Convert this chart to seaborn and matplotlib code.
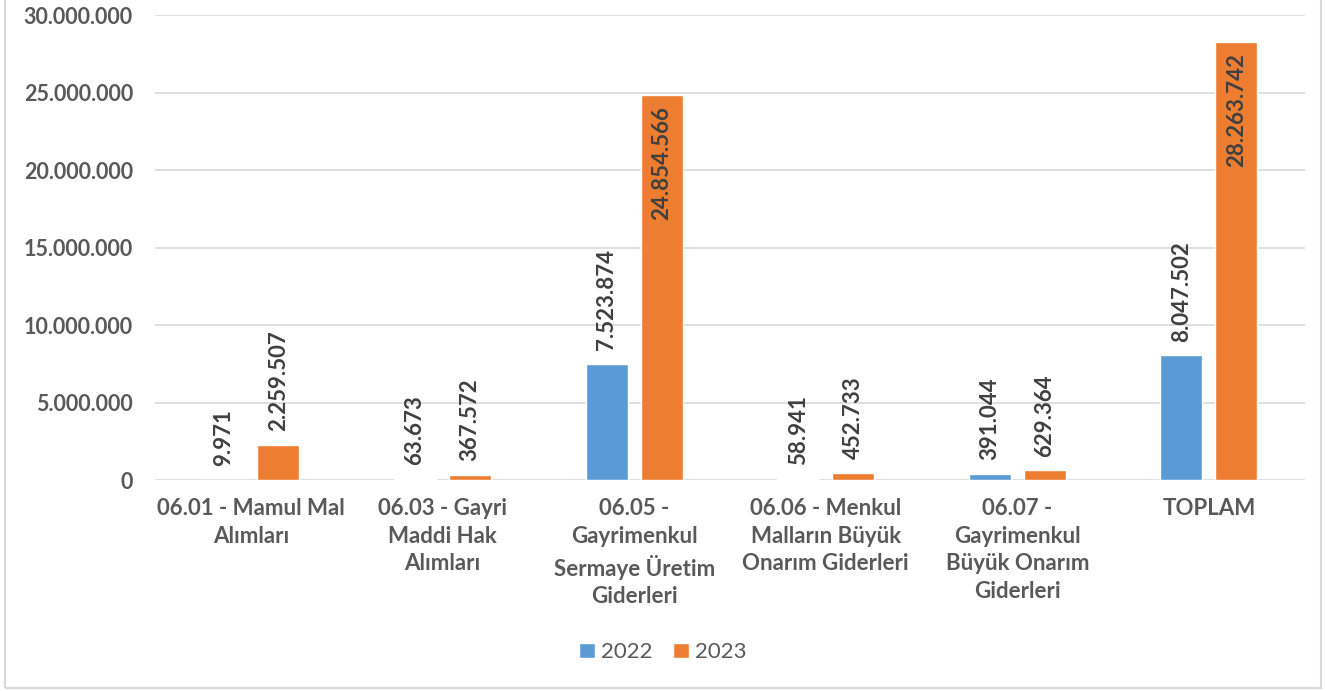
import matplotlib
matplotlib.use("Agg")
import matplotlib.pyplot as plt
import seaborn as sns
import pandas as pd
from matplotlib.ticker import FuncFormatter, MultipleLocator
from matplotlib.patches import Rectangle

categories = [
    "06.01 - Mamul Mal\nAlımları",
    "06.03 - Gayri\nMaddi Hak\nAlımları",
    "06.05 -\nGayrimenkul\nSermaye Üretim\nGiderleri",
    "06.06 - Menkul\nMalların Büyük\nOnarım Giderleri",
    "06.07 -\nGayrimenkul\nBüyük Onarım\nGiderleri",
    "TOPLAM",
]
years = ["2022", "2023"]
values_2022 = [9971, 63673, 7523874, 58941, 391044, 8047502]
values_2023 = [2259507, 367572, 24854566, 452733, 629364, 28263742]
colors = ["#5B9BD5", "#ED7D31"]

df = pd.DataFrame({
    "cat": categories * 2,
    "year": [years[0]] * len(categories) + [years[1]] * len(categories),
    "val": values_2022 + values_2023,
})

sns.set_theme(style="white")
plt.rcParams["font.family"] = ["Lato", "DejaVu Sans"]

def fmt(v):
    return f"{int(round(v)):,}".replace(",", ".")

fig = plt.figure(figsize=(13.26, 6.91), dpi=100)
ax = fig.add_axes([0.117, 0.305, 0.867, 0.673])

sns.barplot(data=df, x="cat", y="val", hue="year", palette=colors,
            width=0.574, gap=0.236, order=categories, hue_order=years,
            ax=ax, legend=True, saturation=1)

ax.set_ylim(0, 30000000)
ax.yaxis.set_major_locator(MultipleLocator(5000000))
ax.yaxis.set_major_formatter(FuncFormatter(lambda v, p: fmt(v)))
ax.grid(axis="y", color="#D9D9D9", linewidth=1.2)
ax.set_axisbelow(True)
for s in ax.spines.values():
    s.set_visible(False)
ax.set_xlabel("")
ax.set_ylabel("")
ax.tick_params(axis="y", length=0, pad=16, labelsize=15.5, labelcolor="#595959")
ax.tick_params(axis="x", length=0, pad=13, labelsize=16, labelcolor="#595959")
for t in ax.get_yticklabels() + ax.get_xticklabels():
    t.set_fontweight("bold")
for t in ax.get_xticklabels():
    t.set_linespacing(1.38)

for cont in ax.containers:
    for bar in cont:
        h = bar.get_height()
        x = bar.get_x() + bar.get_width() / 2
        if h > 20000000:
            ax.annotate(fmt(h), (x, h), xytext=(0, -8), textcoords="offset points",
                        rotation=90, ha="center", va="top", fontsize=16,
                        fontweight="bold", color="#404040")
        else:
            ax.annotate(fmt(h), (x, h), xytext=(0, 10), textcoords="offset points",
                        rotation=90, ha="center", va="bottom", fontsize=16,
                        fontweight="bold", color="#404040")

leg = ax.legend(loc="center", bbox_to_anchor=(0.5, 0.056), bbox_transform=fig.transFigure,
                ncol=2, frameon=False, fontsize=16, handlelength=0.7, handleheight=0.7,
                handletextpad=0.3, columnspacing=0.9)
for t in leg.get_texts():
    t.set_color("#595959")

fig.patches.append(Rectangle((0.004, 0.004), 0.992, 1.1, transform=fig.transFigure,
                             fill=False, edgecolor="#D9D9D9", linewidth=1.5))
fig.savefig("out.png", dpi=100)
